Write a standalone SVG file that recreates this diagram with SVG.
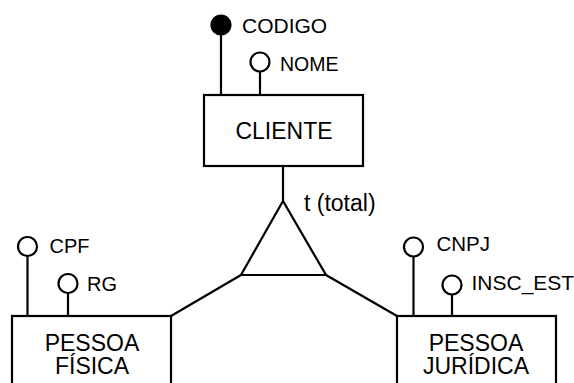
<svg xmlns="http://www.w3.org/2000/svg" width="574" height="383" viewBox="0 0 574 383">
  <style>
    .ln { stroke: #000; stroke-width: 2.2; fill: none; }
    .ent { fill: #fff; stroke: #000; stroke-width: 2.2; }
    .attr { fill: #fff; stroke: #000; stroke-width: 2.2; }
    .key { fill: #000; stroke: #000; stroke-width: 2.2; }
    .lbl { font-family: "Liberation Sans", Arial, Helvetica, sans-serif; font-size: 20.5px; fill: #000; }
    .name { font-family: "Liberation Sans", Arial, Helvetica, sans-serif; font-size: 23px; fill: #000; text-anchor: middle; }
  </style>
  <rect width="574" height="383" fill="#fff"/>

  <!-- connectors: attribute stems, specialization links -->
  <g id="connectors">
    <line class="ln" x1="221" y1="25" x2="221" y2="95"/>
    <line class="ln" x1="260" y1="71" x2="260" y2="95"/>
    <line class="ln" x1="283" y1="166" x2="283" y2="201"/>
    <line class="ln" x1="241" y1="275" x2="171" y2="316"/>
    <line class="ln" x1="326" y1="275" x2="397" y2="316"/>
    <line class="ln" x1="27.5" y1="256" x2="27.5" y2="316"/>
    <line class="ln" x1="68" y1="293" x2="68" y2="316"/>
    <line class="ln" x1="413.5" y1="257" x2="413.5" y2="316"/>
    <line class="ln" x1="452" y1="295" x2="452" y2="316"/>
  </g>

  <!-- entity CLIENTE with its attributes -->
  <g id="cliente">
    <rect class="ent" x="204" y="95" width="159" height="71"/>
    <text class="name" x="284" y="138.5">CLIENTE</text>
  </g>
  <g id="attr-codigo">
    <circle class="key" cx="221" cy="25" r="9.5"/>
    <text class="lbl" x="242" y="33" style="font-size:21px">CODIGO</text>
  </g>
  <g id="attr-nome">
    <circle class="attr" cx="260" cy="62" r="9.5"/>
    <text class="lbl" x="280" y="70.5" style="font-size:19.5px">NOME</text>
  </g>

  <!-- total specialization -->
  <g id="specialization">
    <polygon class="ln" points="283,201 241,275 326,275"/>
    <text class="lbl" x="304" y="210.5" style="font-size:23px">t (total)</text>
  </g>

  <!-- entity PESSOA FÍSICA -->
  <g id="pessoa-fisica">
    <rect class="ent" x="12" y="316" width="159" height="80"/>
    <text class="name" x="92" y="351">PESSOA</text>
    <text class="name" x="92" y="373.5">FÍSICA</text>
  </g>
  <g id="attr-cpf">
    <circle class="attr" cx="27.5" cy="246.5" r="9.5"/>
    <text class="lbl" x="49.5" y="253" style="font-size:20px">CPF</text>
  </g>
  <g id="attr-rg">
    <circle class="attr" cx="68" cy="283.5" r="9.5"/>
    <text class="lbl" x="87" y="290.5" style="font-size:20px">RG</text>
  </g>

  <!-- entity PESSOA JURÍDICA -->
  <g id="pessoa-juridica">
    <rect class="ent" x="397" y="316" width="159" height="80"/>
    <text class="name" x="476" y="350.5">PESSOA</text>
    <text class="name" x="476" y="373.5">JURÍDICA</text>
  </g>
  <g id="attr-cnpj">
    <circle class="attr" cx="413.5" cy="247" r="9.5"/>
    <text class="lbl" x="436.5" y="251">CNPJ</text>
  </g>
  <g id="attr-insc-est">
    <circle class="attr" cx="452" cy="285" r="9.5"/>
    <text class="lbl" x="471.5" y="290" style="font-size:21px">INSC_EST</text>
  </g>
</svg>
